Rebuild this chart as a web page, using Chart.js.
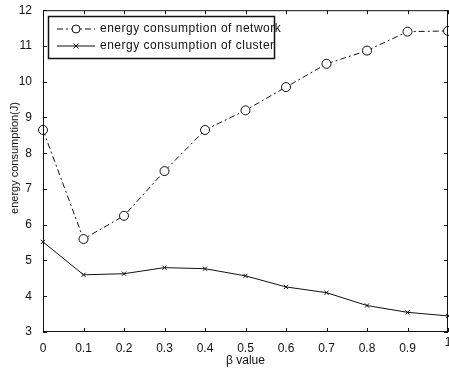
<!DOCTYPE html>
<html>
<head>
<meta charset="utf-8">
<script src="https://cdn.jsdelivr.net/npm/chart.js@4"></script>
<style>
html, body { margin: 0; padding: 0; background: #fff; }
#wrap { width: 449px; height: 370px; }
</style>
</head>
<body>
<div id="wrap"><canvas id="c" width="449" height="370"></canvas></div>
<script>
/* DATA */
const betaValues = [0, 0.1, 0.2, 0.3, 0.4, 0.5, 0.6, 0.7, 0.8, 0.9, 1];
const networkEnergy = [8.65, 5.6, 6.25, 7.5, 8.65, 9.2, 9.85, 10.5, 10.87, 11.4, 11.42];
const clusterEnergy = [5.52, 4.6, 4.63, 4.8, 4.77, 4.57, 4.26, 4.1, 3.74, 3.55, 3.45];
const seriesNames = ["energy consumption of network", "energy consumption of cluster"];
const yMin = 3, yMax = 12;

const FONT = "Liberation Sans, Arial, sans-serif";
const INK = "#111";

const pts = (ys) => betaValues.map((x, i) => ({ x: x, y: ys[i] }));
const fmtBeta = (v) => (v === 0 || v === 1) ? String(v) : v.toFixed(1);

/* FRAME + INWARD TICKS + LEGEND + Y TITLE */
const framePlugin = {
  id: "frame",
  afterDraw(chart) {
    const ctx = chart.ctx;
    const a = chart.chartArea;
    const xs = chart.scales.x, ys = chart.scales.y;
    ctx.save();
    ctx.strokeStyle = INK;
    ctx.lineWidth = 1;
    ctx.strokeRect(a.left + 0.5, a.top + 0.5, a.right - a.left - 1, a.bottom - a.top - 1);
    ctx.beginPath();
    betaValues.forEach(v => {
      const px = Math.round(xs.getPixelForValue(v)) + 0.5;
      ctx.moveTo(px, a.bottom); ctx.lineTo(px, a.bottom - 4);
      ctx.moveTo(px, a.top); ctx.lineTo(px, a.top + 4);
    });
    for (let v = yMin; v <= yMax; v++) {
      const py = Math.round(ys.getPixelForValue(v)) + 0.5;
      ctx.moveTo(a.left, py); ctx.lineTo(a.left + 4, py);
      ctx.moveTo(a.right, py); ctx.lineTo(a.right - 4, py);
    }
    ctx.stroke();

    // last x label sits on the canvas edge (clipped like the original)
    const last = betaValues[betaValues.length - 1];
    ctx.font = "12px " + FONT;
    ctx.fillStyle = INK;
    ctx.textAlign = "center";
    ctx.textBaseline = "top";
    ctx.fillText(fmtBeta(last), xs.getPixelForValue(last), a.bottom + 5);

    // y axis title
    ctx.save();
    ctx.translate(15, 158);
    ctx.rotate(-Math.PI / 2);
    ctx.font = "11px " + FONT;
    ctx.textAlign = "center";
    ctx.textBaseline = "middle";
    ctx.fillText("energy consumption(J)", 0, 0);
    ctx.restore();

    // legend box
    const lx = 48, ly = 16, lw = 226, lh = 42;
    ctx.fillStyle = "#fff";
    ctx.fillRect(lx, ly, lw, lh);
    ctx.lineWidth = 1.5;
    ctx.strokeRect(lx + 0.5, ly + 0.5, lw, lh);
    ctx.font = "12px " + FONT;
    ctx.letterSpacing = "0.5px";
    ctx.textAlign = "left";
    ctx.textBaseline = "middle";
    const rows = [ly + 13, ly + 30];
    chart.data.datasets.forEach((ds, i) => {
      const y = rows[i];
      ctx.save();
      ctx.strokeStyle = INK;
      ctx.lineWidth = 1;
      ctx.setLineDash(ds.borderDash || []);
      ctx.beginPath();
      ctx.moveTo(lx + 9, y); ctx.lineTo(lx + 47, y);
      ctx.stroke();
      ctx.setLineDash([]);
      ctx.beginPath();
      const mx = lx + 28;
      if (i === 0) {
        ctx.arc(mx, y, 4, 0, Math.PI * 2);
        ctx.fillStyle = "#fff";
        ctx.fill();
        ctx.stroke();
      } else {
        ctx.moveTo(mx - 2.5, y - 2.5); ctx.lineTo(mx + 2.5, y + 2.5);
        ctx.moveTo(mx + 2.5, y - 2.5); ctx.lineTo(mx - 2.5, y + 2.5);
        ctx.stroke();
      }
      ctx.restore();
      ctx.fillStyle = INK;
      ctx.fillText(seriesNames[i], lx + 52, y);
    });
    ctx.restore();
  }
};

new Chart(document.getElementById("c"), {
  type: "line",
  data: {
    datasets: [
      {
        label: seriesNames[0],
        data: pts(networkEnergy),
        borderColor: INK,
        borderWidth: 1,
        borderDash: [6, 3, 2, 3],
        pointStyle: "circle",
        pointRadius: 4.5,
        pointBackgroundColor: "#fff",
        pointBorderColor: INK,
        pointBorderWidth: 1,
        clip: false,
        tension: 0
      },
      {
        label: seriesNames[1],
        data: pts(clusterEnergy),
        borderColor: INK,
        borderWidth: 1,
        pointStyle: "crossRot",
        pointRadius: 3,
        pointBorderColor: INK,
        pointBorderWidth: 1,
        clip: false,
        tension: 0
      }
    ]
  },
  options: {
    responsive: false,
    animation: false,
    layout: { autoPadding: false, padding: { top: 10, right: 1, left: 0, bottom: 0 } },
    plugins: { legend: { display: false }, tooltip: { enabled: false } },
    scales: {
      x: {
        type: "linear",
        min: 0, max: 1,
        grid: { display: false },
        border: { display: false },
        afterFit: (s) => { s.height = 38; s.paddingRight = 0; },
        afterBuildTicks: (s) => { s.ticks = betaValues.map(v => ({ value: v })); },
        ticks: {
          color: INK,
          padding: 1,
          maxRotation: 0,
          font: { family: FONT, size: 12 },
          callback: (v) => v === 1 ? "" : fmtBeta(v)
        },
        title: {
          display: true,
          text: "β value",
          color: INK,
          font: { family: FONT, size: 12 },
          padding: { top: 0, bottom: 2 }
        }
      },
      y: {
        min: yMin, max: yMax,
        grid: { display: false },
        border: { display: false },
        afterFit: (s) => { s.width = 43; },
        ticks: {
          stepSize: 1,
          color: INK,
          padding: 3,
          font: { family: FONT, size: 12 }
        }
      }
    }
  },
  plugins: [framePlugin]
});
</script>
</body>
</html>
